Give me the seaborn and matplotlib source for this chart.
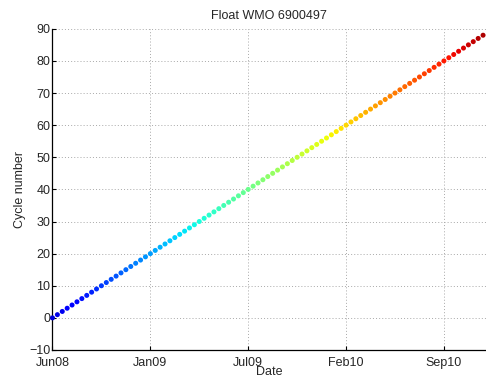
import matplotlib
matplotlib.use("Agg")
import matplotlib.pyplot as plt
import matplotlib.dates as mdates
import numpy as np
import pandas as pd
import seaborn as sns

# Float profile cycles and the day (since launch) each one surfaced
launch_date = "2008-06-25"
cycle_number = [
    0, 1, 2, 3, 4, 5, 6, 7, 8, 9, 10, 11, 12, 13, 14, 15, 16, 17, 18, 19,
    20, 21, 22, 23, 24, 25, 26, 27, 28, 29, 30, 31, 32, 33, 34, 35, 36, 37, 38, 39,
    40, 41, 42, 43, 44, 45, 46, 47, 48, 49, 50, 51, 52, 53, 54, 55, 56, 57, 58, 59,
    60, 61, 62, 63, 64, 65, 66, 67, 68, 69, 70, 71, 72, 73, 74, 75, 76, 77, 78, 79,
    80, 81, 82, 83, 84, 85, 86, 87, 88,
]
days_since_launch = [
    0, 10, 20, 30, 40, 50, 60, 70, 80, 90, 100, 110, 120, 130, 140, 150, 160, 170, 180, 190,
    200, 210, 220, 230, 240, 250, 260, 270, 280, 290, 300, 310, 320, 330, 340, 350, 360, 370, 380, 390,
    400, 410, 420, 430, 440, 450, 460, 470, 480, 490, 500, 510, 520, 530, 540, 550, 560, 570, 580, 590,
    600, 610, 620, 630, 640, 650, 660, 670, 680, 690, 700, 710, 720, 730, 740, 750, 760, 770, 780, 790,
    800, 810, 820, 830, 840, 850, 860, 870, 880,
]
tick_labels = ["Jun08", "Jan09", "Jul09", "Feb10", "Sep10"]
tick_step_days = 200
y_ticks = [-10, 0, 10, 20, 30, 40, 50, 60, 70, 80, 90]

sns.set_style("white")
plt.rcParams["font.family"] = ["Liberation Sans", "DejaVu Sans"]
plt.rcParams["font.size"] = 9

t0 = pd.Timestamp(launch_date)
df = pd.DataFrame({
    "Date": t0 + pd.to_timedelta(days_since_launch, unit="D"),
    "Cycle number": cycle_number,
})

fig = plt.figure(figsize=(4.86, 3.81), dpi=100)
ax = fig.add_axes([0.108, 0.0814, 0.892, 0.843])

sns.scatterplot(
    data=df, x="Date", y="Cycle number", hue="Cycle number",
    palette=matplotlib.colormaps["jet"], hue_norm=(-8, 92), s=13,
    edgecolor="none", legend=False, ax=ax, zorder=3, clip_on=False,
)

x0 = mdates.date2num(t0)
ax.set_xlim(x0, x0 + 886)
ax.set_ylim(-10, 90)
ax.set_xticks([x0 + k * tick_step_days for k in range(len(tick_labels))])
ax.set_xticklabels(tick_labels)
ax.set_yticks(y_ticks)

ax.grid(True, color="#a8a8a8", linestyle=(0, (1, 2.2)), linewidth=0.7)
for side in ("top", "right"):
    ax.spines[side].set_visible(False)
for side in ("left", "bottom"):
    ax.spines[side].set_color("black")
    ax.spines[side].set_linewidth(0.9)
ax.tick_params(direction="in", length=3, width=0.8, color="black",
               labelsize=9, pad=1.5, left=True, bottom=True)
ax.tick_params(axis="x", pad=5)

# lift the lowest y label slightly so it sits clear of the first date label
ax.get_yticklabels()[0].set_va("center_baseline")

ax.set_title("Float WMO 6900497", fontsize=9, pad=7)
ax.set_xlabel("Date", fontsize=9, labelpad=-2)
ax.set_ylabel("Cycle number", fontsize=9, labelpad=2)

fig.savefig("out.png", dpi=100)
